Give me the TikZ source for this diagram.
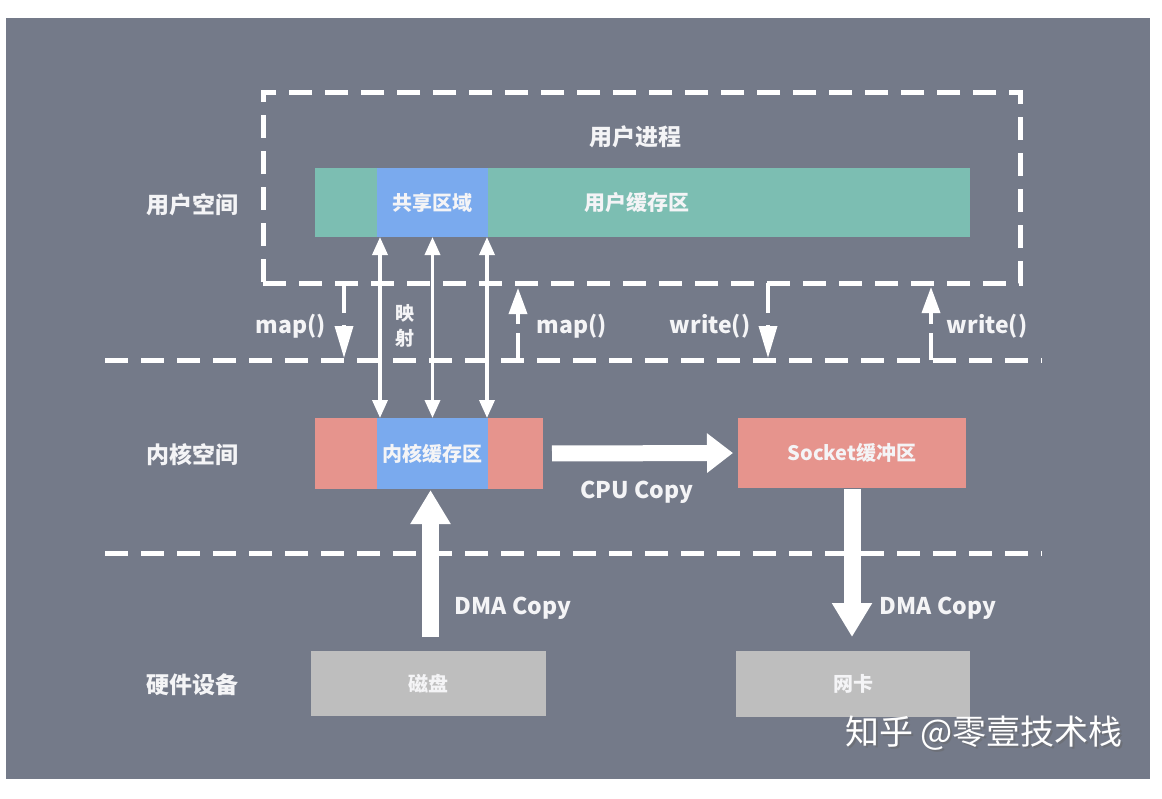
\documentclass[tikz,border=0pt]{standalone}
\usepackage{fontspec}
\setmainfont{Noto Sans CJK SC}
\usetikzlibrary{arrows.meta,calc}
\definecolor{bgc}{RGB}{116,122,137}
\definecolor{tealc}{RGB}{124,190,178}
\definecolor{bluec}{RGB}{122,170,238}
\definecolor{pinkc}{RGB}{230,148,141}
\definecolor{greyc}{RGB}{190,190,190}
\definecolor{txt}{RGB}{244,244,246}
\tikzset{
  box/.style={inner sep=0pt, outer sep=0pt, anchor=north west, text=txt, font=\fontsize{20}{24}\selectfont\bfseries},
  lbl/.style={text=txt, inner sep=0pt, font=\fontsize{23}{27}\selectfont\bfseries},
  dashline/.style={draw=white, line width=5pt, dash pattern=on 23pt off 13pt},
  maparrow/.style={draw=white, line width=3.5pt, {Triangle[length=18pt,width=15pt]}-{Triangle[length=18pt,width=15pt]}},
  downcall/.style={draw=white, line width=3.5pt, dash pattern=on 30pt off 12pt, -{Triangle[length=32pt,width=18pt]}},
  upcall/.style={draw=white, line width=3.5pt, dash pattern=on 27pt off 9pt on 60pt off 0pt, -{Triangle[length=26pt,width=18pt]}},
  fat/.style={draw=white, line width=16pt, -{Triangle[length=26pt,width=38pt]}},
  fatv/.style={draw=white, line width=17pt, -{Triangle[length=34pt,width=38pt]}},
}
\begin{document}
\begin{tikzpicture}[x=1pt,y=-1pt]
\useasboundingbox (0,0) rectangle (1162,798);
\fill[white] (0,0) rectangle (1162,798);
\fill[bgc] (6,18) rectangle (1150,779);

% user process dashed box
\node[draw=white, line width=5pt, dash pattern=on 23pt off 13pt, inner sep=0pt, outer sep=0pt, anchor=north west, minimum width=757pt, minimum height=191pt] (uproc) at (263,92) {};
\node[lbl] (uproclbl) at (635,137) {用户进程};

% user buffer
\node[box, fill=tealc, minimum width=655pt, minimum height=69pt] (ubuf) at (315,168) {};
\node[box, fill=bluec, minimum width=111pt, minimum height=69pt, font=\fontsize{20}{24}\selectfont\bfseries] (shared) at (377,168) {共享区域};
\node[lbl, font=\fontsize{21}{25}\selectfont\bfseries] (ubuflbl) at (637,203) {用户缓存区};

% kernel
\node[box, fill=pinkc, minimum width=228pt, minimum height=71pt] (kbox) at (315,418) {};
\node[box, fill=bluec, minimum width=111pt, minimum height=71pt] (kbuf) at (377,418) {内核缓存区};
\node[box, fill=pinkc, minimum width=228pt, minimum height=70pt] (sock) at (738,418) {Socket缓冲区};

% hardware
\node[box, fill=greyc, minimum width=235pt, minimum height=65pt] (disk) at (311,651) {磁盘};
\node[box, fill=greyc, minimum width=234pt, minimum height=66pt] (nic) at (736,651) {网卡};

% row labels
\node[lbl] (uspace) at (192,205) {用户空间};
\node[lbl] (kspace) at (192,455) {内核空间};
\node[lbl] (hw) at (192,685) {硬件设备};

% dashed separators
\coordinate (s1a) at (105,360);
\coordinate (s1b) at (1042,360);
\coordinate (s2a) at (105,553);
\coordinate (s2b) at (1042,553);
\draw[dashline] (s1a) -- (s1b);
\draw[dashline] (s2a) -- (s2b);

% mapping arrows
\draw[maparrow] ($(shared.south west)+(3,0)$) -- ($(kbuf.north west)+(3,0)$);
\draw[maparrow] (shared.south) -- (kbuf.north);
\draw[maparrow] ($(shared.south east)+(-1,0)$) -- ($(kbuf.north east)+(-1,0)$);
\node[lbl, font=\fontsize{19}{22}\selectfont\bfseries, align=center] (ys) at (405,326) {映\\[3pt]射};

% map()/write() calls
\coordinate (c1a) at (344,283); \coordinate (c1b) at (344,358);
\coordinate (c2a) at (518,360); \coordinate (c2b) at (518,288);
\coordinate (c3a) at (768,283); \coordinate (c3b) at (768,358);
\coordinate (c4a) at (931,360); \coordinate (c4b) at (931,287);
\draw[downcall] (c1a) -- (c1b);
\draw[upcall] (c2a) -- (c2b);
\draw[downcall] (c3a) -- (c3b);
\draw[upcall] (c4a) -- (c4b);
\node[lbl] (map1) at (291,326) {map()};
\node[lbl] (map2) at (572,326) {map()};
\node[lbl] (wr1) at (710,326) {write()};
\node[lbl] (wr2) at (987,326) {write()};

% copies
\draw[fat, shorten <=9pt, shorten >=5pt] (kbox.east) -- (sock.west);
\node[lbl] (cpu) at (637,492) {CPU Copy};
\draw[fatv, shorten <=14pt, shorten >=1pt] ($(disk.north)+(2,0)$) -- ($(kbuf.south)+(-2,0)$);
\node[lbl] (dma1) at (513,608) {DMA Copy};
\draw[fatv, shorten <=1pt, shorten >=14pt] (sock.south) -- (sock.south|-nic.north);
\node[lbl] (dma2) at (938,608) {DMA Copy};

% watermark
\node[text=black!60, opacity=0.5, font=\fontsize{34}{38}\selectfont] (wm0) at (986,735) {知乎 @零壹技术栈};
\node[text=white, font=\fontsize{34}{38}\selectfont] (wm) at (984,733) {知乎 @零壹技术栈};
\end{tikzpicture}
\end{document}
